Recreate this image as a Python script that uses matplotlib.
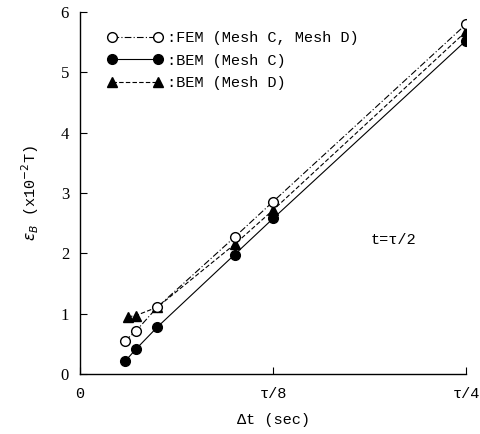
import matplotlib
matplotlib.use('Agg')
import matplotlib.pyplot as plt

# x in units of tau
dt = [0.029, 0.036, 0.05, 0.1, 0.125, 0.25]
fem = [0.55, 0.71, 1.11, 2.27, 2.86, 5.80]
bem_c = [0.21, 0.41, 0.78, 1.98, 2.58, 5.53]
dt_d = [0.031, 0.036, 0.05, 0.1, 0.125, 0.25]
bem_d = [0.95, 0.97, 1.11, 2.15, 2.72, 5.68]

xticks = [0, 0.125, 0.25]
xticklabels = ['0', 'τ/8', 'τ/4']
yticks = [0, 1, 2, 3, 4, 5, 6]

mono = 'Liberation Mono'
serif = 'Liberation Serif'

fig = plt.figure(figsize=(4.8, 4.34), dpi=100)
ax = fig.add_axes([0.167, 0.138, 0.804, 0.834])

ax.plot(dt, fem, color='black', lw=0.8, ls=(0, (6, 2, 1, 2)), marker='o',
        mfc='white', mec='black', ms=7, label=':FEM (Mesh C, Mesh D)', zorder=3)
ax.plot(dt, bem_c, color='black', lw=0.8, ls='-', marker='o',
        mfc='black', mec='black', ms=7, label=':BEM (Mesh C)', zorder=2)
ax.plot(dt_d, bem_d, color='black', lw=0.8, ls=(0, (4, 2)), marker='^',
        mfc='black', mec='black', ms=6.5, label=':BEM (Mesh D)', zorder=2)

ax.set_xlim(0, 0.25)
ax.set_ylim(0, 6)
ax.set_xticks(xticks)
ax.set_xticklabels(xticklabels, fontfamily=mono, fontsize=11)
ax.set_yticks(yticks)
ax.set_yticklabels([str(v) for v in yticks], fontfamily=serif, fontsize=12)
ax.tick_params(direction='in', length=5, width=0.8, colors='black', pad=8)
ax.tick_params(axis='x', pad=9)
for s in ['top', 'right']:
    ax.spines[s].set_visible(False)
for s in ['left', 'bottom']:
    ax.spines[s].set_linewidth(1.0)

ax.set_xlabel('Δt (sec)', fontfamily=mono, fontsize=11, labelpad=9)
ax.set_ylabel(r'$\varepsilon_B$ (x10$^{-2}$T)', fontfamily=mono, fontsize=11, labelpad=14)

ax.text(0.188, 2.22, 't=τ/2', fontfamily=mono, fontsize=11, va='center')

leg = ax.legend(loc='upper left', bbox_to_anchor=(0.035, 0.985), numpoints=2,
                frameon=False, prop={'family': mono, 'size': 11},
                handlelength=3.6, handletextpad=0.3, labelspacing=0.55)

fig.savefig('out.png', dpi=100)
